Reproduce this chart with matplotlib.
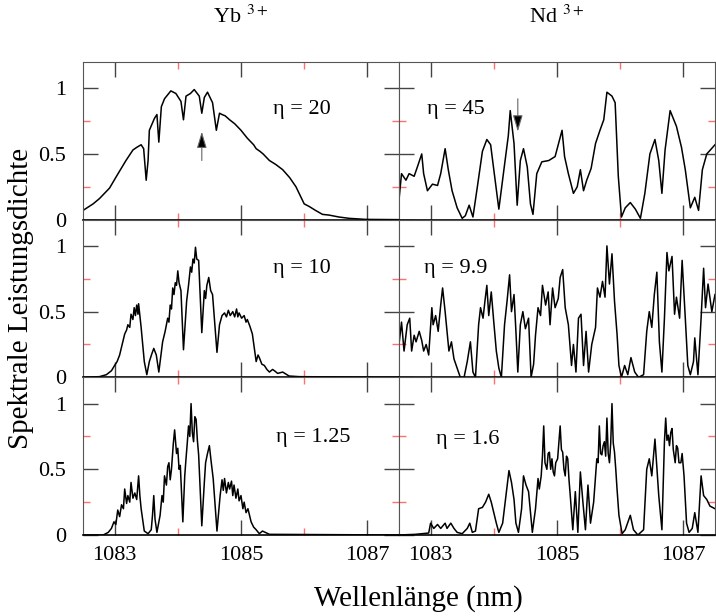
import numpy as np
import matplotlib
matplotlib.use('Agg')
from matplotlib import pyplot as plt

plt.rcParams['font.family'] = ['Liberation Serif', 'DejaVu Serif']
plt.rcParams['mathtext.fontset'] = 'stix'

# Yb3+, eta = 20
yb20_wl = [1082.50, 1082.66, 1082.76, 1082.92, 1083.03, 1083.18, 1083.29, 1083.35, 1083.42, 1083.46,
           1083.50, 1083.53, 1083.55, 1083.63, 1083.67, 1083.70, 1083.74, 1083.79, 1083.84, 1083.89,
           1083.97, 1084.05, 1084.09, 1084.13, 1084.20, 1084.26, 1084.34, 1084.38, 1084.42, 1084.47,
           1084.55, 1084.61, 1084.66, 1084.70, 1084.75, 1084.82, 1084.90, 1085.00, 1085.10, 1085.20,
           1085.24, 1085.30, 1085.35, 1085.45, 1085.55, 1085.66, 1085.77, 1085.87, 1085.95, 1086.00,
           1086.08, 1086.18, 1086.29, 1086.39, 1086.55, 1086.71, 1086.97, 1087.50]
yb20_val = [0.07, 0.12, 0.16, 0.24, 0.33, 0.45, 0.53, 0.55, 0.57, 0.54,
            0.30, 0.45, 0.68, 0.77, 0.80, 0.59, 0.86, 0.92, 0.95, 0.98,
            0.96, 0.90, 0.76, 0.94, 0.96, 0.99, 0.94, 0.81, 0.93, 0.97,
            0.89, 0.68, 0.81, 0.80, 0.79, 0.76, 0.73, 0.68, 0.62, 0.57,
            0.54, 0.52, 0.50, 0.45, 0.42, 0.38, 0.32, 0.25, 0.17, 0.12,
            0.10, 0.07, 0.04, 0.035, 0.02, 0.01, 0.002, 0.0]

# Yb3+, eta = 10
yb10_wl = [1082.50, 1082.76, 1082.87, 1082.95, 1083.00, 1083.04, 1083.08, 1083.12, 1083.16, 1083.19,
           1083.21, 1083.24, 1083.26, 1083.29, 1083.31, 1083.33, 1083.35, 1083.37, 1083.38, 1083.42,
           1083.47, 1083.51, 1083.55, 1083.59, 1083.62, 1083.66, 1083.70, 1083.76, 1083.80, 1083.84,
           1083.86, 1083.88, 1083.90, 1083.92, 1083.94, 1083.96, 1083.98, 1084.00, 1084.02, 1084.05,
           1084.09, 1084.14, 1084.17, 1084.20, 1084.22, 1084.24, 1084.26, 1084.28, 1084.30, 1084.33,
           1084.38, 1084.42, 1084.44, 1084.46, 1084.49, 1084.52, 1084.55, 1084.62, 1084.66, 1084.70,
           1084.74, 1084.77, 1084.80, 1084.83, 1084.87, 1084.90, 1084.93, 1084.95, 1084.97, 1085.01,
           1085.05, 1085.08, 1085.10, 1085.14, 1085.18, 1085.24, 1085.27, 1085.29, 1085.33, 1085.37,
           1085.41, 1085.45, 1085.50, 1085.53, 1085.58, 1085.66, 1085.76, 1085.92, 1087.50]
yb10_val = [0.0, 0.005, 0.02, 0.05, 0.09, 0.12, 0.17, 0.25, 0.33, 0.36,
            0.40, 0.38, 0.48, 0.44, 0.53, 0.47, 0.55, 0.48, 0.56, 0.38,
            0.12, 0.02, 0.12, 0.18, 0.22, 0.17, 0.04, 0.27, 0.35, 0.45,
            0.42, 0.55, 0.52, 0.68, 0.63, 0.72, 0.70, 0.81, 0.72, 0.66,
            0.21, 0.58, 0.70, 0.84, 0.80, 0.90, 0.87, 0.99, 0.90, 0.89,
            0.34, 0.66, 0.60, 0.70, 0.76, 0.66, 0.63, 0.19, 0.40, 0.47,
            0.49, 0.46, 0.51, 0.47, 0.50, 0.46, 0.52, 0.46, 0.49, 0.45,
            0.47, 0.42, 0.44, 0.39, 0.33, 0.12, 0.17, 0.15, 0.10, 0.09,
            0.06, 0.04, 0.06, 0.05, 0.03, 0.04, 0.01, 0.005, 0.0]

# Yb3+, eta = 1.25
yb125_wl = [1082.50, 1082.82, 1082.90, 1082.95, 1082.99, 1083.02, 1083.05, 1083.08, 1083.11, 1083.14,
            1083.16, 1083.19, 1083.21, 1083.24, 1083.26, 1083.29, 1083.32, 1083.35, 1083.38, 1083.40,
            1083.42, 1083.47, 1083.53, 1083.58, 1083.60, 1083.62, 1083.64, 1083.67, 1083.72, 1083.75,
            1083.77, 1083.79, 1083.82, 1083.84, 1083.86, 1083.88, 1083.90, 1083.93, 1083.95, 1083.98,
            1084.00, 1084.02, 1084.04, 1084.08, 1084.11, 1084.13, 1084.15, 1084.17, 1084.19, 1084.21,
            1084.23, 1084.25, 1084.27, 1084.29, 1084.31, 1084.33, 1084.38, 1084.42, 1084.44, 1084.47,
            1084.50, 1084.53, 1084.56, 1084.62, 1084.67, 1084.70, 1084.72, 1084.74, 1084.77, 1084.80,
            1084.82, 1084.85, 1084.87, 1084.89, 1084.92, 1084.95, 1084.97, 1085.00, 1085.03, 1085.05,
            1085.08, 1085.11, 1085.16, 1085.20, 1085.24, 1085.29, 1085.34, 1085.45, 1087.50]
yb125_val = [0.0, 0.0, 0.02, 0.05, 0.10, 0.08, 0.19, 0.14, 0.23, 0.20,
             0.35, 0.24, 0.30, 0.25, 0.40, 0.28, 0.32, 0.27, 0.45, 0.30,
             0.20, 0.03, 0.01, 0.04, 0.15, 0.30, 0.12, 0.02, 0.15, 0.30,
             0.25, 0.45, 0.38, 0.52, 0.55, 0.42, 0.50, 0.70, 0.80, 0.62,
             0.66, 0.50, 0.53, 0.10, 0.45, 0.58, 0.70, 0.83, 0.75, 1.00,
             0.78, 0.71, 0.90, 0.88, 0.72, 0.61, 0.07, 0.40, 0.55, 0.62,
             0.68, 0.55, 0.43, 0.03, 0.30, 0.42, 0.34, 0.43, 0.32, 0.40,
             0.35, 0.41, 0.30, 0.38, 0.28, 0.35, 0.26, 0.30, 0.20, 0.25,
             0.17, 0.20, 0.10, 0.06, 0.04, 0.01, 0.03, 0.005, 0.0]

# Nd3+, eta = 45
nd45_wl = [1082.50, 1082.54, 1082.61, 1082.66, 1082.74, 1082.79, 1082.86, 1082.89, 1082.95, 1083.03,
           1083.11, 1083.16, 1083.23, 1083.28, 1083.34, 1083.42, 1083.50, 1083.55, 1083.61, 1083.67,
           1083.74, 1083.82, 1083.89, 1083.95, 1084.00, 1084.08, 1084.16, 1084.23, 1084.26, 1084.32,
           1084.37, 1084.42, 1084.47, 1084.53, 1084.58, 1084.62, 1084.68, 1084.76, 1084.87, 1084.97,
           1085.08, 1085.12, 1085.18, 1085.26, 1085.32, 1085.37, 1085.42, 1085.47, 1085.54, 1085.61,
           1085.68, 1085.74, 1085.79, 1085.87, 1085.92, 1085.97, 1086.02, 1086.08, 1086.16, 1086.24,
           1086.32, 1086.39, 1086.47, 1086.55, 1086.61, 1086.66, 1086.71, 1086.79, 1086.89, 1086.97,
           1087.03, 1087.11, 1087.18, 1087.24, 1087.30, 1087.37, 1087.50]
nd45_val = [0.15, 0.35, 0.30, 0.35, 0.33, 0.40, 0.50, 0.35, 0.22, 0.27,
            0.26, 0.35, 0.54, 0.38, 0.22, 0.09, 0.01, 0.03, 0.11, 0.02,
            0.25, 0.52, 0.61, 0.57, 0.38, 0.08, 0.38, 0.64, 0.83, 0.58,
            0.11, 0.45, 0.54, 0.40, 0.12, 0.04, 0.35, 0.44, 0.45, 0.48,
            0.68, 0.48, 0.35, 0.20, 0.25, 0.38, 0.22, 0.30, 0.39, 0.58,
            0.68, 0.76, 0.97, 0.94, 0.89, 0.33, 0.02, 0.09, 0.13, 0.08,
            0.01, 0.20, 0.50, 0.61, 0.45, 0.20, 0.53, 0.83, 0.71, 0.55,
            0.38, 0.09, 0.17, 0.07, 0.38, 0.50, 0.57]

# Nd3+, eta = 9.9
nd99_wl = [1082.50, 1082.54, 1082.58, 1082.63, 1082.67, 1082.70, 1082.74, 1082.77, 1082.82, 1082.86,
           1082.89, 1082.93, 1082.97, 1083.02, 1083.04, 1083.08, 1083.12, 1083.16, 1083.19, 1083.23,
           1083.25, 1083.29, 1083.33, 1083.37, 1083.42, 1083.47, 1083.53, 1083.58, 1083.63, 1083.67,
           1083.71, 1083.76, 1083.79, 1083.83, 1083.86, 1083.89, 1083.92, 1083.96, 1084.00, 1084.04,
           1084.08, 1084.12, 1084.17, 1084.21, 1084.25, 1084.28, 1084.32, 1084.35, 1084.38, 1084.42,
           1084.46, 1084.50, 1084.55, 1084.59, 1084.63, 1084.66, 1084.70, 1084.74, 1084.77, 1084.82,
           1084.86, 1084.89, 1084.93, 1084.97, 1085.02, 1085.05, 1085.09, 1085.13, 1085.18, 1085.23,
           1085.26, 1085.30, 1085.34, 1085.38, 1085.42, 1085.46, 1085.50, 1085.55, 1085.61, 1085.64,
           1085.68, 1085.72, 1085.76, 1085.79, 1085.83, 1085.87, 1085.91, 1085.95, 1085.98, 1086.02,
           1086.07, 1086.12, 1086.17, 1086.23, 1086.29, 1086.37, 1086.42, 1086.46, 1086.50, 1086.54,
           1086.58, 1086.62, 1086.66, 1086.70, 1086.74, 1086.77, 1086.82, 1086.86, 1086.89, 1086.94,
           1086.98, 1087.03, 1087.07, 1087.11, 1087.16, 1087.18, 1087.23, 1087.28, 1087.32, 1087.35,
           1087.39, 1087.45, 1087.50]
nd99_val = [0.25, 0.42, 0.20, 0.40, 0.45, 0.20, 0.32, 0.27, 0.35, 0.28,
            0.20, 0.25, 0.17, 0.53, 0.40, 0.47, 0.35, 0.55, 0.68, 0.50,
            0.40, 0.20, 0.27, 0.14, 0.07, 0.0, 0.0, 0.12, 0.27, 0.04,
            0.0, 0.40, 0.53, 0.45, 0.58, 0.70, 0.47, 0.65, 0.42, 0.20,
            0.07, 0.0, 0.40, 0.58, 0.78, 0.50, 0.63, 0.35, 0.04, 0.40,
            0.50, 0.37, 0.45, 0.0, 0.10, 0.32, 0.53, 0.47, 0.70, 0.55,
            0.65, 0.40, 0.68, 0.53, 0.60, 0.76, 0.82, 0.53, 0.40, 0.09,
            0.25, 0.04, 0.45, 0.48, 0.09, 0.35, 0.04, 0.25, 0.38, 0.68,
            0.61, 0.73, 0.61, 1.00, 0.71, 0.94, 0.58, 0.33, 0.09, 0.0,
            0.09, 0.02, 0.15, 0.04, 0.0, 0.02, 0.35, 0.50, 0.38, 0.63,
            0.80, 0.27, 0.04, 0.45, 0.95, 0.81, 0.92, 0.48, 0.61, 0.45,
            0.89, 0.45, 0.09, 0.02, 0.12, 0.30, 0.02, 0.45, 0.83, 0.53,
            0.71, 0.50, 0.63]

# Nd3+, eta = 1.6
nd16_wl = ([1082.50, 1082.76, 1082.97, 1083.00, 1083.05, 1083.11, 1083.16, 1083.23, 1083.26, 1083.32,
            1083.37, 1083.42, 1083.50, 1083.58, 1083.62, 1083.66, 1083.71, 1083.76, 1083.82, 1083.87,
            1083.92, 1083.96, 1084.00, 1084.04, 1084.08, 1084.14, 1084.18, 1084.24, 1084.28, 1084.32,
            1084.35, 1084.39, 1084.44, 1084.47, 1084.51, 1084.55, 1084.61, 1084.66]
           + [1084.70, 1084.72, 1084.75, 1084.77, 1084.79, 1084.81, 1084.84, 1084.86, 1084.88, 1084.90,
              1084.92, 1084.94, 1084.96, 1084.98, 1085.01, 1085.03, 1085.05, 1085.07, 1085.09, 1085.11,
              1085.13, 1085.15, 1085.17, 1085.19, 1085.21]
           + [1085.25, 1085.29, 1085.33, 1085.37, 1085.41, 1085.45, 1085.49, 1085.53]
           + [1085.58, 1085.61, 1085.63, 1085.65, 1085.67, 1085.69, 1085.71, 1085.73, 1085.75, 1085.77,
              1085.79, 1085.81, 1085.83, 1085.85, 1085.87, 1085.89, 1085.91, 1085.93, 1085.95]
           + [1085.98, 1086.03, 1086.08, 1086.16, 1086.21, 1086.28, 1086.37, 1086.42, 1086.46, 1086.50,
              1086.55, 1086.61, 1086.66]
           + [1086.70, 1086.72, 1086.74, 1086.76, 1086.78, 1086.80, 1086.82, 1086.84, 1086.87, 1086.89,
              1086.91, 1086.93, 1086.96, 1086.98, 1087.01]
           + [1087.05, 1087.09, 1087.14, 1087.18, 1087.23, 1087.28, 1087.32, 1087.37, 1087.42, 1087.50])
nd16_val = ([0.0, 0.005, 0.015, 0.09, 0.05, 0.08, 0.05, 0.09, 0.05, 0.09,
             0.05, 0.02, 0.01, 0.05, 0.09, 0.02, 0.03, 0.20, 0.21, 0.25,
             0.31, 0.25, 0.17, 0.09, 0.02, 0.09, 0.25, 0.49, 0.40, 0.27,
             0.09, 0.02, 0.20, 0.45, 0.38, 0.33, 0.02, 0.20]
            + [0.43, 0.35, 0.45, 0.60, 0.83, 0.55, 0.50, 0.62, 0.63, 0.50,
               0.58, 0.48, 0.45, 0.55, 0.58, 0.70, 0.83, 0.65, 0.63, 0.50,
               0.45, 0.60, 0.58, 0.42, 0.30]
            + [0.04, 0.33, 0.02, 0.48, 0.25, 0.04, 0.38, 0.09]
            + [0.25, 0.45, 0.58, 0.55, 0.83, 0.62, 0.61, 0.68, 0.71, 0.60,
               0.89, 0.62, 0.55, 0.70, 1.00, 0.70, 0.63, 0.50, 0.35]
            + [0.15, 0.01, 0.04, 0.15, 0.04, 0.0, 0.04, 0.50, 0.58, 0.45,
               0.73, 0.30, 0.04]
            + [0.71, 0.89, 0.72, 0.76, 0.68, 0.78, 0.81, 0.65, 0.55, 0.68,
               0.66, 0.55, 0.55, 0.62, 0.45]
            + [0.09, 0.02, 0.05, 0.17, 0.02, 0.45, 0.30, 0.27, 0.22, 0.20])

panels = [[(yb20_wl, yb20_val, 'η = 20'), (nd45_wl, nd45_val, 'η = 45')],
          [(yb10_wl, yb10_val, 'η = 10'), (nd99_wl, nd99_val, 'η = 9.9')],
          [(yb125_wl, yb125_val, 'η = 1.25'), (nd16_wl, nd16_val, 'η = 1.6')]]
label_pos = [[(1085.5, 0.835), (1082.95, 0.835)],
             [(1085.5, 0.83), (1082.9, 0.83)],
             [(1085.55, 0.74), (1083.08, 0.73)]]

fig, axs = plt.subplots(3, 2, figsize=(7.16, 6.16), dpi=100)
plt.subplots_adjust(left=0.1159, right=0.9986, top=0.8994, bottom=0.1315, wspace=0, hspace=0)

for i in range(3):
    for j in range(2):
        ax = axs[i, j]
        wl, val, txt = panels[i][j]
        ax.plot(wl, val, color='k', lw=1.1)
        ax.set_xlim(1082.5, 1087.5)
        ax.set_ylim(0, 1.2)
        ax.set_xticks([1083, 1085, 1087])
        ax.set_xticks([1084, 1086], minor=True)
        ax.set_yticks([0, 0.5, 1])
        ax.set_yticks([0.25, 0.75], minor=True)
        ax.set_xticklabels(['1083', '1085', '1087'])
        ax.set_yticklabels(['0', '0.5', '1'])
        ax.tick_params(which='both', direction='in', top=True, right=True, labelsize=16)
        ax.tick_params(which='major', length=10.5, width=1, color='#444')
        ax.tick_params(which='minor', length=5, width=1, color='#ff7070')
        ax.tick_params(axis='x', pad=8)
        ax.tick_params(axis='y', pad=12)
        ax.tick_params(labelbottom=(i == 2), labelleft=(j == 0))
        for s in ['left', 'right', 'top']:
            ax.spines[s].set_color('#555')
        ax.spines['bottom'].set_color('k')
        ax.spines['bottom'].set_linewidth(1.2)
        tx, ty = label_pos[i][j]
        ax.text(tx, ty, txt, fontsize=16, ha='left', va='center')

arrow = dict(arrowstyle='-|>,head_length=1.0,head_width=0.3', fc='k', ec='#666', lw=0.8, shrinkA=0, shrinkB=0)
axs[0, 0].annotate('', xy=(1084.38, 0.67), xytext=(1084.38, 0.45), arrowprops=arrow)
axs[0, 1].annotate('', xy=(1084.38, 0.67), xytext=(1084.38, 0.92), arrowprops=arrow)

axs[0, 0].set_title(r'Yb $^{3+}$', fontsize=16, pad=28)
axs[0, 1].set_title(r'Nd $^{3+}$', fontsize=16, pad=28)

fig.text(0.03, 0.516, 'Spektrale Leistungsdichte', rotation=90, fontsize=21, ha='center', va='center')
fig.text(0.584, 0.028, 'Wellenlänge (nm)', fontsize=21, ha='center', va='center')

plt.savefig('out.png', dpi=100)
